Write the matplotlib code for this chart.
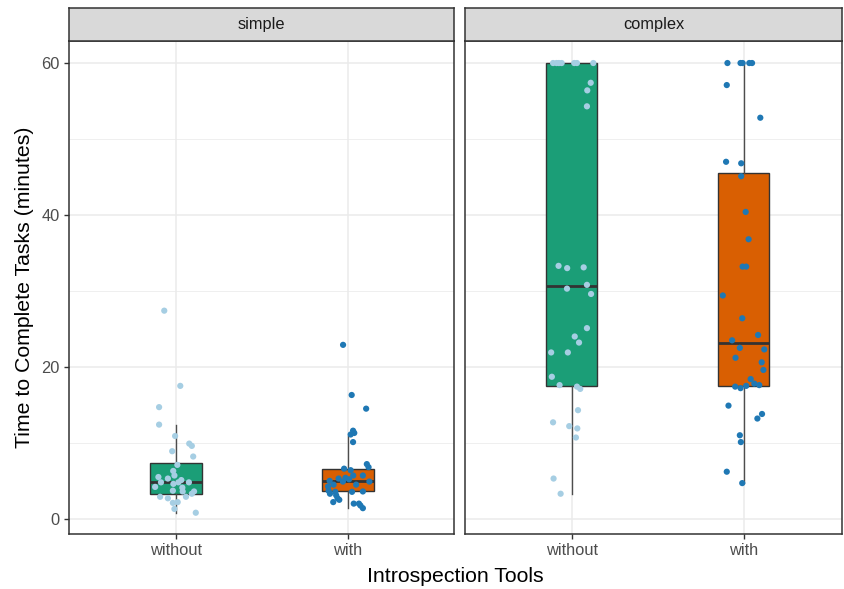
import matplotlib
matplotlib.use("Agg")
import matplotlib.pyplot as plt

plt.rcParams['font.family'] = ['Liberation Sans', 'DejaVu Sans']

panels = ["simple", "complex"]
tools = ["without", "with"]

# box statistics: [without, with]
simple_q1 = [3.3, 3.6]
simple_med = [4.8, 5.0]
simple_q3 = [7.4, 6.6]
simple_lo = [0.8, 1.4]
simple_hi = [12.4, 10.9]

complex_q1 = [17.5, 17.5]
complex_med = [30.6, 23.1]
complex_q3 = [60.0, 45.5]
complex_lo = [3.3, 4.7]
complex_hi = [60.0, 60.0]

# individual times (minutes) and their horizontal jitter (category units)
simple_without = [27.4, 17.5, 14.7, 12.4, 10.9, 9.9, 9.6, 8.9, 8.2, 7.1, 6.3, 5.5,
                  5.7, 5.3, 5.1, 4.8, 4.8, 4.6, 4.8, 4.2, 4.1, 3.7, 3.6, 3.6,
                  3.3, 2.9, 2.7, 2.9, 2.1, 2.2, 1.3, 0.8]
simple_without_jit = [-0.067, 0.026, -0.097, -0.097, -0.004, 0.078, 0.093, -0.021,
                      0.101, 0.009, -0.015, -0.101, -0.008, -0.046, 0.032, -0.086,
                      0.015, -0.014, 0.076, -0.12, 0.038, -0.017, 0.04, 0.106,
                      0.093, -0.091, -0.046, 0.059, -0.017, 0.011, -0.008, 0.116]

simple_with = [22.9, 16.3, 14.5, 11.6, 11.3, 11.1, 10.1, 7.2, 6.8, 6.6, 6.4, 5.7,
               5.7, 5.4, 5.3, 5.0, 4.9, 5.2, 4.9, 4.5, 4.5, 4.25, 3.7, 3.6, 3.55,
               3.55, 3.3, 3.1, 2.7, 2.5, 2.2, 2.0, 2.0, 1.75, 1.4]
simple_with_jit = [-0.029, 0.021, 0.105, 0.029, 0.036, 0.015, 0.029, 0.109, 0.119,
                   -0.023, 0.015, 0.086, 0.030, -0.015, -0.055, -0.107, -0.030,
                   0.006, 0.124, -0.084, 0.047, -0.116, -0.113, 0.086, 0.023,
                   -0.074, -0.105, -0.069, -0.061, -0.051, -0.086, 0.033, 0.063,
                   0.072, 0.086]

complex_without = [60, 60, 60, 60, 60, 60, 60, 57.4, 56.4, 54.3, 33.3, 33.0, 33.1,
                   30.8, 30.3, 29.6, 25.1, 24.0, 23.2, 21.9, 21.9, 18.7, 17.6,
                   17.4, 17.1, 14.3, 12.7, 12.2, 11.9, 10.7, 5.3, 3.3]
complex_without_jit = [-0.108, -0.088, -0.058, 0.015, 0.031, 0.126, -0.074, 0.111,
                       0.091, 0.089, -0.076, -0.026, 0.070, 0.089, -0.027, 0.113,
                       0.089, 0.018, 0.043, -0.119, -0.022, -0.115, -0.070, 0.031,
                       0.050, 0.037, -0.108, -0.014, 0.033, 0.025, -0.105, -0.064]

complex_with = [60, 60, 60, 60, 60, 57.1, 52.8, 47.0, 46.8, 45.1, 40.4, 36.8, 33.2,
                33.2, 29.4, 26.4, 24.2, 23.5, 22.5, 22.3, 21.2, 20.6, 19.6, 18.4,
                17.8, 17.6, 17.5, 17.4, 17.2, 14.9, 13.8, 13.2, 11.0, 10.1, 6.2, 4.7]
complex_with_jit = [-0.094, -0.018, -0.006, 0.033, 0.049, -0.098, 0.097, -0.102,
                    -0.014, -0.014, 0.012, 0.029, -0.006, 0.015, -0.121, -0.008,
                    0.084, -0.067, -0.022, 0.120, -0.047, 0.105, 0.115, 0.041,
                    0.062, 0.091, 0.015, -0.049, -0.018, -0.088, 0.107, 0.080,
                    -0.022, -0.016, -0.098, -0.008]

box_colors = ["#1B9E77", "#D95F02"]
point_colors = ["#A6CEE3", "#1F78B4"]
dark = "#333333"
grid = "#EBEBEB"

W, H = 844, 589
fig = plt.figure(figsize=(W / 100, H / 100), dpi=100)

panel_px = [(69, 454), (465, 842)]
panel_xlim = [(-0.62, 1.615), (-0.62, 1.572)]
top, bottom = 41, 534
strip_top = 8

box_data = [
    (simple_q1, simple_med, simple_q3, simple_lo, simple_hi),
    (complex_q1, complex_med, complex_q3, complex_lo, complex_hi),
]
point_data = [
    [(simple_without, simple_without_jit), (simple_with, simple_with_jit)],
    [(complex_without, complex_without_jit), (complex_with, complex_with_jit)],
]

for i, name in enumerate(panels):
    x0, x1 = panel_px[i]
    ax = fig.add_axes([x0 / W, (H - bottom) / H, (x1 - x0) / W, (bottom - top) / H])

    q1, med, q3, lo, hi = box_data[i]
    stats = []
    for j in range(2):
        stats.append(dict(q1=q1[j], med=med[j], q3=q3[j], whislo=lo[j],
                          whishi=hi[j], fliers=[]))
    bp = ax.bxp(stats, positions=[0, 1], widths=0.3, patch_artist=True,
                showfliers=False, showcaps=False, manage_ticks=False,
                boxprops=dict(edgecolor=dark, linewidth=1.0),
                medianprops=dict(color=dark, linewidth=2.0),
                whiskerprops=dict(color="#4D4D4D", linewidth=1.0))
    for j, patch in enumerate(bp["boxes"]):
        patch.set_facecolor(box_colors[j])
        patch.set_zorder(2)
    for ln in bp["medians"] + bp["whiskers"]:
        ln.set_zorder(2.5)

    for j in range(2):
        ys, jit = point_data[i][j]
        xs = [j + d for d in jit]
        ax.scatter(xs, ys, s=20, color=point_colors[j], edgecolors="none", zorder=3)

    ax.set_xlim(*panel_xlim[i])
    ax.set_ylim(-2.0, 62.9)

    # grid
    ax.set_yticks([0, 20, 40, 60])
    ax.set_yticks([10, 30, 50], minor=True)
    ax.set_xticks([0, 1])
    ax.set_xticklabels(tools)
    ax.grid(True, which="major", color=grid, lw=1.1, zorder=0)
    ax.grid(True, which="minor", axis="y", color=grid, lw=0.55, zorder=0)
    ax.set_axisbelow(True)

    for sp in ax.spines.values():
        sp.set_color(dark)
        sp.set_linewidth(1.1)
    ax.tick_params(axis="both", which="major", length=3.7, width=1.0, color=dark,
                   labelcolor="#4D4D4D", labelsize=11.8, pad=3)
    ax.tick_params(axis="y", which="minor", length=0)
    if i > 0:
        ax.tick_params(axis="y", which="major", length=0, labelleft=False)

    # facet strip
    sax = fig.add_axes([x0 / W, (H - top) / H, (x1 - x0) / W, (top - strip_top) / H])
    sax.set_facecolor("#D9D9D9")
    sax.set_xticks([])
    sax.set_yticks([])
    for sp in sax.spines.values():
        sp.set_color(dark)
        sp.set_linewidth(1.1)
    sax.text(0.5, 0.5, name, ha="center", va="center", fontsize=11.8,
             color="#1A1A1A", transform=sax.transAxes)

fig.text(25 / W, 1 - ((top + bottom) / 2) / H, "Time to Complete Tasks (minutes)",
         rotation=90, ha="center", va="center", fontsize=15.3)
fig.text(((69 + 842) / 2) / W, 1 - 576 / H, "Introspection Tools",
         ha="center", va="center", fontsize=15.3)

fig.savefig("out.png", dpi=100)
